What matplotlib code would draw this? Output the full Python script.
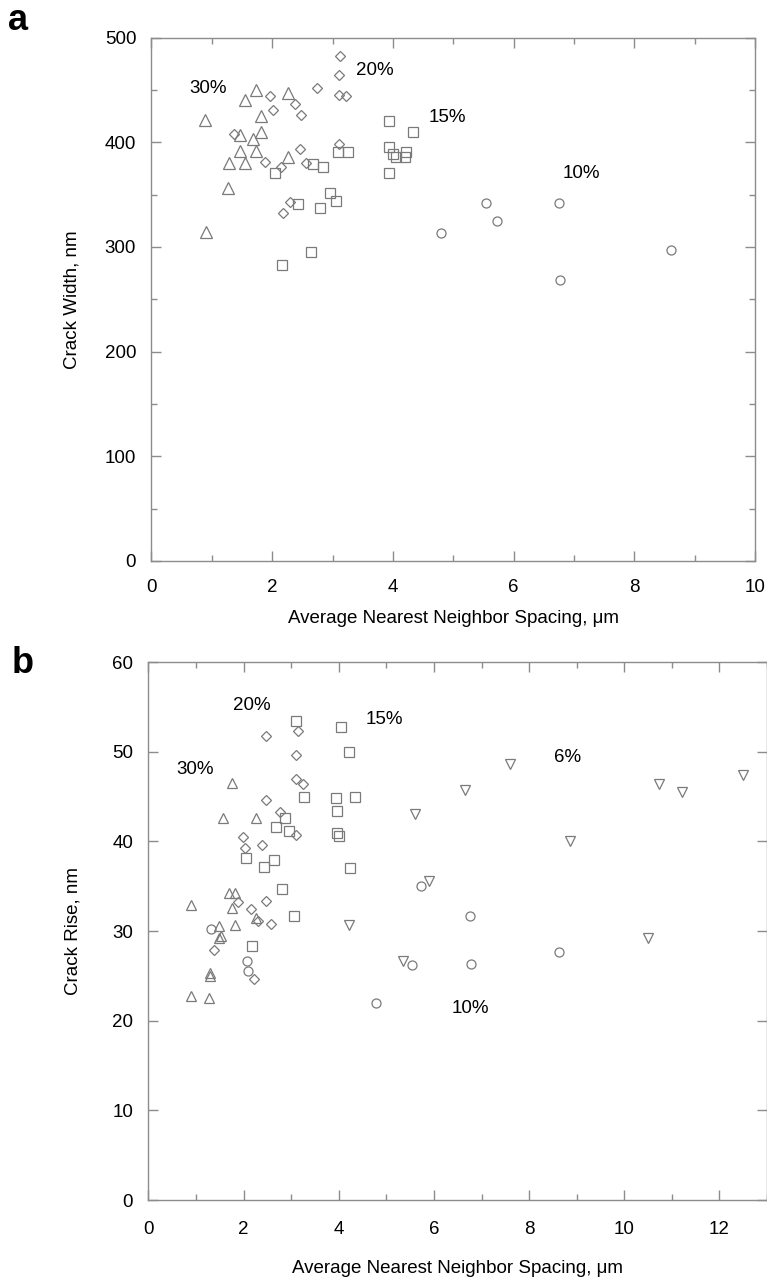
import numpy as np
import matplotlib
matplotlib.use("Agg")
import matplotlib.pyplot as plt
from matplotlib.ticker import MultipleLocator

plt.rcParams["font.family"] = ["Liberation Sans", "DejaVu Sans"]

# ── (a) crack width vs spacing ───────────────────────────────────────────────
a30_x = [0.89, 1.55, 1.73, 2.27, 1.81, 1.46, 1.81, 1.68, 1.46, 1.73, 1.29, 1.55, 2.27, 1.26, 0.90]
a30_y = [421, 440, 450, 447, 425, 407, 410, 403, 392, 392, 380, 380, 386, 356, 314]

a20_x = [3.12, 3.10, 2.75, 1.96, 3.11, 3.23, 2.01, 2.38, 2.47, 1.37, 2.46, 3.10, 1.88, 2.15, 2.56, 2.30, 2.18]
a20_y = [482, 464, 452, 444, 445, 444, 431, 437, 426, 408, 394, 398, 381, 376, 380, 343, 332]

a15_x = [2.05, 2.68, 2.85, 3.09, 3.26, 3.94, 4.33, 3.93, 4.01, 4.05, 4.22, 4.20, 3.94,
         2.96, 2.43, 2.80, 3.05, 2.64, 2.17]
a15_y = [371, 379, 376, 391, 391, 420, 410, 396, 389, 386, 391, 386, 371,
         352, 341, 337, 344, 295, 283]

a10_x = [4.79, 5.54, 5.72, 6.75, 6.77, 8.61]
a10_y = [313, 342, 325, 342, 268, 297]

a_labels = ["30%", "20%", "15%", "10%"]
a_label_x = [0.94, 3.70, 4.91, 7.13]
a_label_y = [451, 469, 424, 370]

# ── (b) crack rise vs spacing ────────────────────────────────────────────────
b30_x = [1.75, 1.56, 2.27, 1.69, 1.82, 1.75, 0.89, 2.27, 1.82, 1.49, 1.52, 1.48, 1.29, 1.29, 0.89, 1.27]
b30_y = [46.5, 42.6, 42.6, 34.2, 34.2, 32.6, 32.9, 31.5, 30.7, 30.6, 29.5, 29.2, 25.3, 25.0, 22.7, 22.5]

b20_x = [2.47, 3.14, 3.11, 3.11, 3.24, 2.47, 2.77, 3.10, 1.98, 2.02, 2.39, 1.89, 2.48,
         2.15, 2.30, 2.57, 1.38, 2.21]
b20_y = [51.8, 52.3, 49.6, 47.0, 46.4, 44.6, 43.3, 40.7, 40.5, 39.3, 39.6, 33.2, 33.4,
         32.5, 31.1, 30.8, 27.9, 24.7]

b15_x = [3.09, 4.05, 4.21, 3.27, 3.95, 4.33, 3.96, 2.87, 2.68, 2.96, 3.96, 4.00,
         2.05, 2.63, 2.43, 4.23, 2.81, 3.06, 2.18]
b15_y = [53.4, 52.8, 50.0, 45.0, 44.8, 45.0, 43.4, 42.6, 41.6, 41.2, 40.9, 40.6,
         38.1, 37.9, 37.1, 37.0, 34.7, 31.7, 28.3]

b10_x = [1.31, 5.73, 2.06, 2.10, 5.54, 4.79, 6.75, 8.62, 6.78]
b10_y = [30.2, 35.0, 26.7, 25.5, 26.2, 22.0, 31.7, 27.7, 26.3]

b6_x = [5.61, 7.59, 6.66, 10.73, 11.22, 12.50, 8.85, 5.89, 4.21, 10.50, 5.35]
b6_y = [43.0, 48.6, 45.7, 46.4, 45.5, 47.4, 40.0, 35.6, 30.7, 29.2, 26.7]

b_labels = ["20%", "15%", "30%", "6%", "10%"]
b_label_x = [2.17, 4.95, 0.98, 8.80, 6.76]
b_label_y = [55.2, 53.6, 48.0, 49.3, 21.4]

GRAY = "#7a7a7a"
AXC = "#8c8c8c"
FS = 13.5


def style_axes(ax, xmax, xmaj, xmin, ymax, ymaj, ymin, xpad):
    ax.set_xlim(0, xmax)
    ax.set_ylim(0, ymax)
    ax.xaxis.set_major_locator(MultipleLocator(xmaj))
    ax.xaxis.set_minor_locator(MultipleLocator(xmin))
    ax.yaxis.set_major_locator(MultipleLocator(ymaj))
    if ymin:
        ax.yaxis.set_minor_locator(MultipleLocator(ymin))
    for s in ax.spines.values():
        s.set_color(AXC)
        s.set_linewidth(1.0)
    ax.tick_params(which="both", direction="in", top=True, right=True,
                   color=AXC, labelsize=FS)
    ax.tick_params(which="major", length=7.5, width=1.0)
    ax.tick_params(which="minor", length=4, width=1.0)
    ax.tick_params(axis="x", pad=xpad)
    ax.tick_params(axis="y", pad=11)


def pts(ax, x, y, marker, ms):
    ax.plot(x, y, linestyle="none", marker=marker, ms=ms, mfc="none",
            mec=GRAY, mew=0.9)


fig = plt.figure(figsize=(7.67, 12.81), dpi=100)

# panel a
ax1 = fig.add_axes([0.1975, 0.5621, 0.7868, 0.4085])
style_axes(ax1, 10, 2, 1, 500, 100, 50, 13)
pts(ax1, a30_x, a30_y, "^", 8)
pts(ax1, a20_x, a20_y, "D", 5.2)
pts(ax1, a15_x, a15_y, "s", 7.5)
pts(ax1, a10_x, a10_y, "o", 6.5)
for t, x, y in zip(a_labels, a_label_x, a_label_y):
    ax1.text(x, y, t, fontsize=FS, ha="center", va="center")
ax1.set_xlabel("Average Nearest Neighbor Spacing, \u03bcm", fontsize=FS)
ax1.set_ylabel("Crack Width, nm", fontsize=FS)
ax1.xaxis.set_label_coords(0.5, -0.094)
ax1.yaxis.set_label_coords(-0.117, 0.5)

# panel b
ax2 = fig.add_axes([0.1936, 0.0632, 0.8064, 0.42])
style_axes(ax2, 13, 2, 1, 60, 10, None, 15)
pts(ax2, b30_x, b30_y, "^", 7.5)
pts(ax2, b20_x, b20_y, "D", 5.0)
pts(ax2, b15_x, b15_y, "s", 7.5)
pts(ax2, b10_x, b10_y, "o", 6.5)
pts(ax2, b6_x, b6_y, "v", 7.5)
for t, x, y in zip(b_labels, b_label_x, b_label_y):
    ax2.text(x, y, t, fontsize=FS, ha="center", va="center")
ax2.set_xlabel("Average Nearest Neighbor Spacing, \u03bcm", fontsize=FS)
ax2.set_ylabel("Crack Rise, nm", fontsize=FS)
ax2.xaxis.set_label_coords(0.5, -0.112)
ax2.yaxis.set_label_coords(-0.109, 0.5)

fig.text(0.024, 0.984, "a", fontsize=26, fontweight="bold", ha="center", va="center")
fig.text(0.029, 0.482, "b", fontsize=26, fontweight="bold", ha="center", va="center")

fig.savefig("out.png", dpi=100)
